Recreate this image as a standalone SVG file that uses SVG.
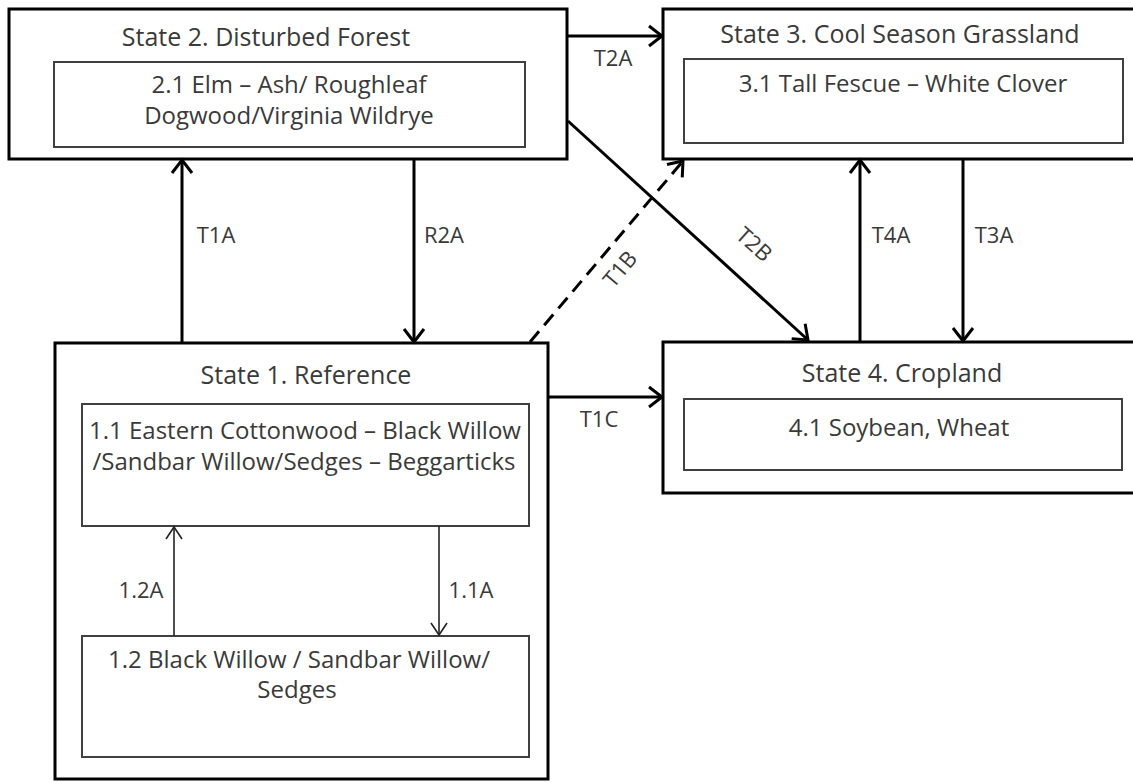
<svg xmlns="http://www.w3.org/2000/svg" width="1133" height="783" viewBox="0 0 1133 783">
<defs>
<style>
.outer{fill:#fff;stroke:#000;stroke-width:3}
.inner{fill:#fff;stroke:#404040;stroke-width:2}
.t{font-family:"Open Sans","Liberation Sans",sans-serif;font-size:24px;fill:#3a3a3a;text-anchor:middle}
.h{font-family:"Open Sans","Liberation Sans",sans-serif;font-size:25px;fill:#3a3a3a;text-anchor:middle}
.lbl{font-family:"Open Sans","Liberation Sans",sans-serif;font-size:22px;fill:#3a3a3a;text-anchor:middle}
.c{fill:none;stroke:#000;stroke-width:3}
.thin{fill:none;stroke:#222;stroke-width:1.6}
</style>
<marker id="ah" markerUnits="userSpaceOnUse" markerWidth="30" markerHeight="30" refX="0" refY="0" viewBox="-16 -15 30 30" orient="auto">
<path d="M-13,-10 L0,0 L-13,10" fill="none" stroke="#000" stroke-width="3"/>
</marker>
<marker id="ahs" markerUnits="userSpaceOnUse" markerWidth="30" markerHeight="30" refX="0" refY="0" viewBox="-16 -15 30 30" orient="auto">
<path d="M-12,-8 L0,0 L-12,8" fill="none" stroke="#222" stroke-width="1.6"/>
</marker>
</defs>
<rect width="1133" height="783" fill="#fff"/>

<g id="state2">
<rect class="outer" x="9" y="9" width="558" height="150"/>
<text class="h" x="266" y="46">State 2. Disturbed Forest</text>
<rect class="inner" x="54" y="62" width="471" height="85"/>
<text class="t" x="289" y="93">2.1 Elm – Ash/ Roughleaf</text>
<text class="t" x="289" y="124">Dogwood/Virginia Wildrye</text>
</g>

<g id="state3">
<rect class="outer" x="663" y="9" width="500" height="150"/>
<text class="h" x="900" y="43">State 3. Cool Season Grassland</text>
<rect class="inner" x="684" y="59" width="439" height="84"/>
<text class="t" x="903" y="92">3.1 Tall Fescue – White Clover</text>
</g>

<g id="state1">
<rect class="outer" x="55" y="343" width="493" height="436"/>
<text class="h" x="306" y="384">State 1. Reference</text>
<g id="p11">
<rect class="inner" x="82" y="404" width="447" height="122"/>
<text class="t" x="305" y="439">1.1 Eastern Cottonwood – Black Willow</text>
<text class="t" x="304" y="470">/Sandbar Willow/Sedges – Beggarticks</text>
</g>
<g id="p12">
<rect class="inner" x="82" y="636" width="447" height="121"/>
<text class="t" x="299" y="668">1.2 Black Willow / Sandbar Willow/</text>
<text class="t" x="297" y="698">Sedges</text>
</g>
</g>

<g id="state4">
<rect class="outer" x="663" y="342" width="500" height="151"/>
<text class="h" x="902" y="382">State 4. Cropland</text>
<rect class="inner" x="684" y="399" width="438" height="71"/>
<text class="t" x="899" y="436">4.1 Soybean, Wheat</text>
</g>

<g id="connectors">
<line class="c" x1="567" y1="36" x2="662" y2="36" marker-end="url(#ah)"/>
<line class="c" x1="182" y1="342" x2="182" y2="160" marker-end="url(#ah)"/>
<line class="c" x1="414" y1="159" x2="414" y2="342" marker-end="url(#ah)"/>
<line class="c" x1="530" y1="342" x2="683" y2="161" stroke-dasharray="14 8" marker-end="url(#ah)"/>
<line class="c" x1="568" y1="121" x2="808" y2="340" marker-end="url(#ah)"/>
<line class="c" x1="860" y1="342" x2="860" y2="160" marker-end="url(#ah)"/>
<line class="c" x1="963" y1="159" x2="963" y2="341" marker-end="url(#ah)"/>
<line class="c" x1="548" y1="397" x2="662" y2="397" marker-end="url(#ah)"/>
<line class="thin" x1="174" y1="636" x2="174" y2="527" marker-end="url(#ahs)"/>
<line class="thin" x1="439" y1="526" x2="439" y2="635" marker-end="url(#ahs)"/>
<text class="lbl" x="613" y="66">T2A</text>
<text class="lbl" x="216" y="243">T1A</text>
<text class="lbl" x="444" y="243">R2A</text>
<text class="lbl" x="891" y="243">T4A</text>
<text class="lbl" x="994" y="243">T3A</text>
<text class="lbl" x="599" y="427">T1C</text>
<text class="lbl" x="141" y="598">1.2A</text>
<text class="lbl" x="471" y="598">1.1A</text>
<text class="lbl" transform="translate(626,274) rotate(-50)">T1B</text>
<text class="lbl" transform="translate(749,250) rotate(42)">T2B</text>
</g>
</svg>
